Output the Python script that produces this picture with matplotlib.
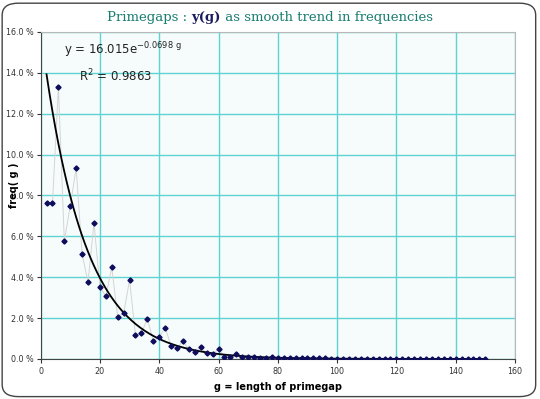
import numpy as np
import matplotlib.pyplot as plt
from matplotlib.patches import FancyBboxPatch
from matplotlib.ticker import FuncFormatter, MultipleLocator

# prime gap frequencies (%)
gaps = list(range(2, 152, 2))
freq = [7.64, 7.64, 13.3, 5.77, 7.5, 9.34, 5.13, 3.76, 6.67, 3.52,
        3.07, 4.48, 2.07, 2.23, 3.86, 1.17, 1.26, 1.97, 0.90, 1.06,
        1.53, 0.64, 0.54, 0.87, 0.47, 0.34, 0.57, 0.28, 0.23, 0.49,
        0.12, 0.10, 0.22, 0.08, 0.10, 0.11, 0.07, 0.06, 0.08, 0.05,
        0.04, 0.06, 0.03, 0.04, 0.06, 0.03, 0.03, 0.04, 0.02, 0.01,
        0.02, 0.01, 0.01, 0.01, 0.01, 0.01, 0.0, 0.01, 0.0, 0.0,
        0.0, 0.0, 0.0, 0.0, 0.0, 0.0, 0.0, 0.0, 0.0, 0.0,
        0.0, 0.0, 0.0, 0.0, 0.0]

# exponential trend fitted in the original
trend_a = 16.015
trend_b = -0.0698

title_parts = [('Primegaps : ', '#1a7d72', 'normal'),
               ('y(g)', '#1a1a5e', 'bold'),
               (' as smooth trend in frequencies', '#1a7d72', 'normal')]

fig = plt.figure(figsize=(5.4, 3.99), dpi=100)
fig.patch.set_facecolor('white')

# rounded frame around the whole picture
frame = FancyBboxPatch((0.004, 0.006), 0.988, 0.986, boxstyle="round,pad=0,rounding_size=0.03",
                       transform=fig.transFigure, facecolor='white', edgecolor='#444444',
                       linewidth=1.0, zorder=-10)
fig.patches.append(frame)

ax = fig.add_axes([0.0752, 0.1003, 0.8785, 0.8195])
ax.set_facecolor('#f6fcfc')

g = np.array(gaps)
ax.plot(g, freq, color='#d4d4d4', linewidth=0.7, zorder=2)
ax.plot(g, freq, linestyle='none', marker='D', markersize=2.6,
        color='#0d0d5c', zorder=4)

gt = np.linspace(2, 150, 300)
ax.plot(gt, trend_a * np.exp(trend_b * gt), color='black', linewidth=1.3, zorder=3)

ax.set_xlim(0, 160)
ax.set_ylim(0, 16)
ax.xaxis.set_major_locator(MultipleLocator(20))
ax.yaxis.set_major_locator(MultipleLocator(2))
ax.yaxis.set_major_formatter(FuncFormatter(lambda v, p: f"{v:.1f} %"))
ax.grid(True, color='#5fd2d2', linewidth=1.0, zorder=1)
ax.set_axisbelow(True)

for side in ['top', 'right']:
    ax.spines[side].set_color('#b8b8b8')
for side in ['left', 'bottom']:
    ax.spines[side].set_color('#444444')
ax.tick_params(axis='both', labelsize=5.8, colors='#333333', length=3, direction='out', pad=2)
ax.tick_params(axis='x', pad=3)

ax.set_xlabel('g = length of primegap', fontsize=7, fontweight='bold', labelpad=4)
fig.text(0.026, 0.535, 'freq( g )', rotation=90, ha='center', va='center',
         fontsize=7, fontweight='bold')

ax.text(8.0, 14.9, r'y = 16.015e$^{-0.0698\ \mathrm{g}}$', fontsize=8.5, color='#222222', zorder=5)
ax.text(13.0, 13.6, r'R$^2$ = 0.9863', fontsize=8.5, color='#222222', zorder=5)

# title built from coloured pieces, then centred
texts = []
for s, c, w in title_parts:
    texts.append(fig.text(0, 0.955, s, ha='left', va='center', fontsize=9.5,
                          family='DejaVu Serif', color=c, fontweight=w))
r = fig.canvas.get_renderer()
widths = [t.get_window_extent(r).width / fig.bbox.width for t in texts]
x = 0.5 - sum(widths) / 2
for t, w in zip(texts, widths):
    t.set_x(x)
    x += w

fig.savefig('out.png', dpi=100)
